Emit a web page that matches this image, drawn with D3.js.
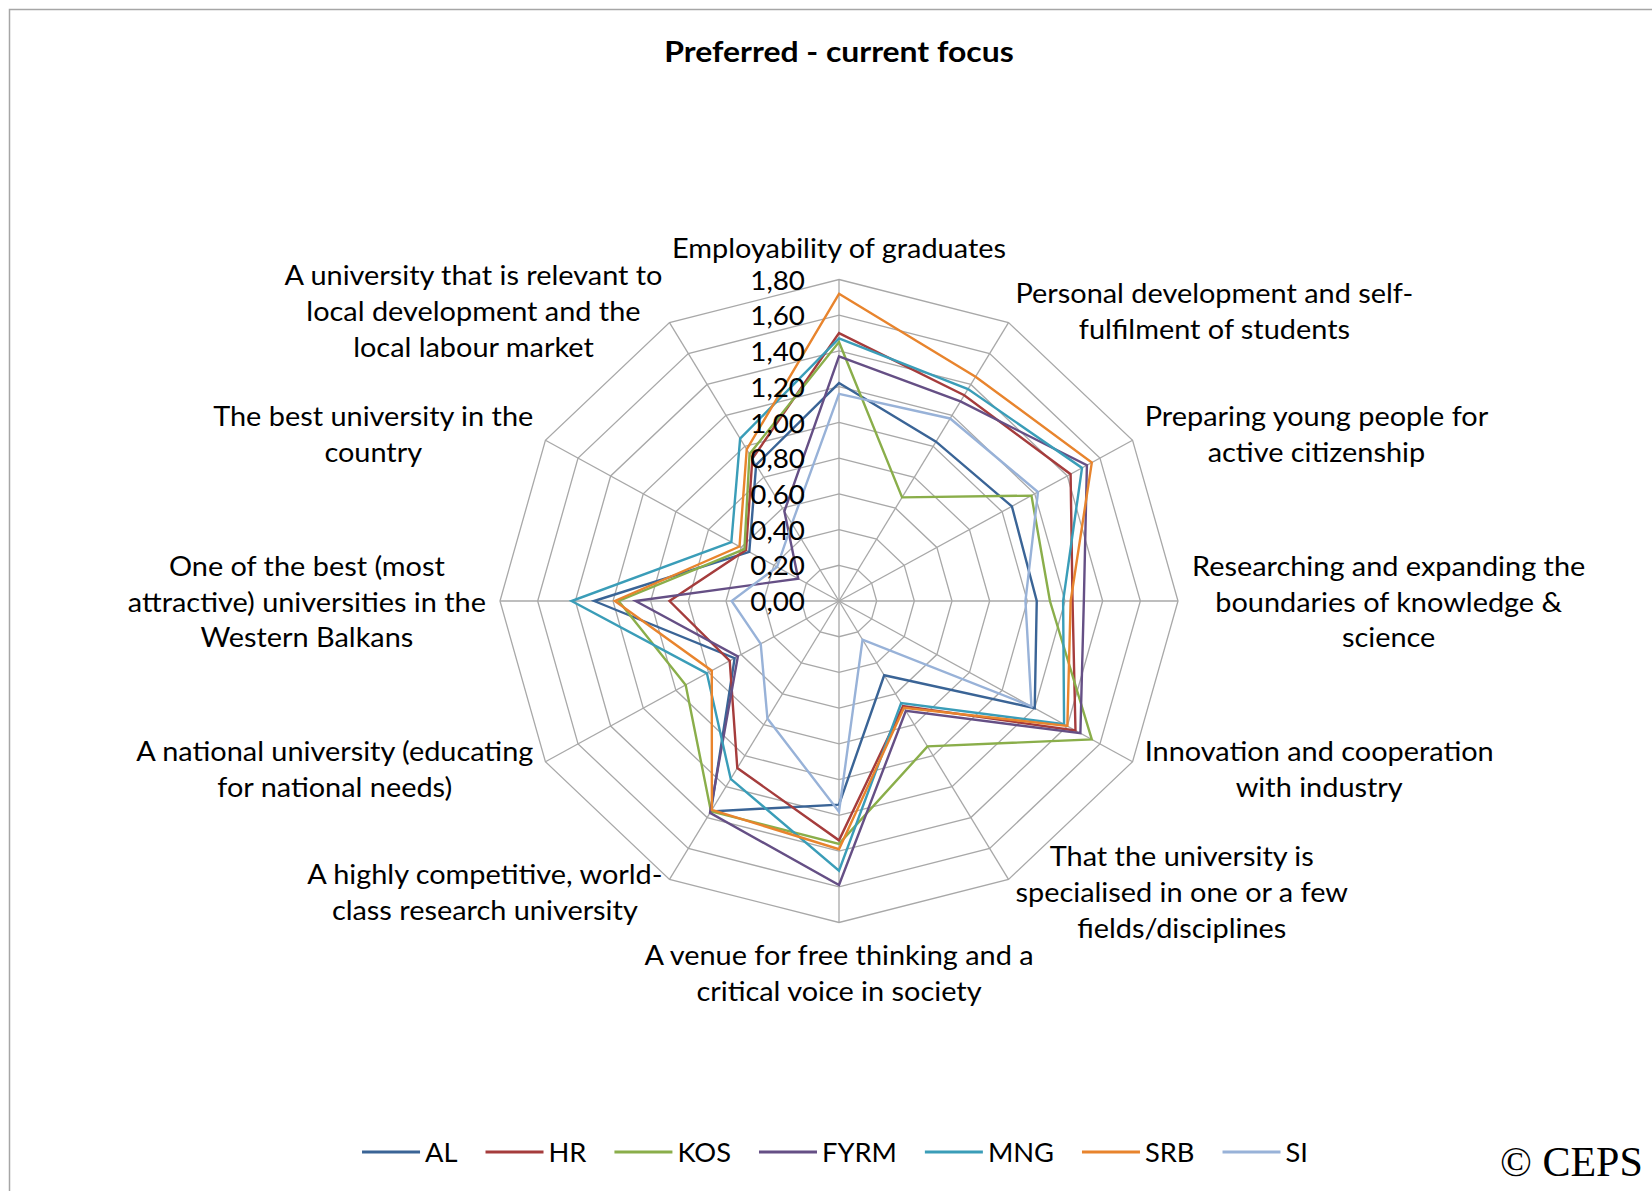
<!DOCTYPE html>
<html>
<head>
<meta charset="utf-8">
<script src="https://cdn.jsdelivr.net/npm/d3@7"></script>
<style>
  body { margin: 0; background: #ffffff; }
  svg { display: block; }
  text { font-family: Lato, "Open Sans", sans-serif; fill: #000; }
</style>
</head>
<body>
<svg id="chart" width="1652" height="1191"></svg>
<script>
// ---- data ----------------------------------------------------------------
const chartTitle = "Preferred - current focus";

const categories = [
  "Employability of graduates",
  "Personal development and self-fulfilment of students",
  "Preparing young people for active citizenship",
  "Researching and expanding the boundaries of knowledge & science",
  "Innovation and cooperation with industry",
  "That the university is specialised in one or a few fields/disciplines",
  "A venue for free thinking and a critical voice in society",
  "A highly competitive, world-class research university",
  "A national university (educating for national needs)",
  "One of the best (most attractive) universities in the Western Balkans",
  "The best university in the country",
  "A university that is relevant to local development and the local labour market"
];

// how each category label wraps
const categoryLines = [
  ["Employability of graduates"],
  ["Personal development and self-", "fulfilment of students"],
  ["Preparing young people for", "active citizenship"],
  ["Researching and expanding the", "boundaries of knowledge &", "science"],
  ["Innovation and cooperation", "with industry"],
  ["That the university is", "specialised in one or a few", "fields/disciplines"],
  ["A venue for free thinking and a", "critical voice in society"],
  ["A highly competitive, world-", "class research university"],
  ["A national university (educating", "for national needs)"],
  ["One of the best (most", "attractive) universities in the", "Western Balkans"],
  ["The best university in the", "country"],
  ["A university that is relevant to", "local development and the", "local labour market"]
];

const seriesNames = ["AL", "HR", "KOS", "FYRM", "MNG", "SRB", "SI"];

const valuesAL   = [1.22, 1.03, 1.06, 1.05, 1.20, 0.48, 1.14, 1.36, 0.64, 1.30, 0.55, 0.88];
const valuesHR   = [1.50, 1.33, 1.42, 1.24, 1.45, 0.68, 1.34, 1.08, 0.67, 0.90, 0.57, 0.92];
const valuesKOS  = [1.45, 0.67, 1.18, 1.12, 1.55, 0.94, 1.36, 1.36, 0.94, 1.17, 0.58, 0.95];
const valuesFYRM = [1.37, 1.29, 1.52, 1.30, 1.48, 0.71, 1.59, 1.37, 0.62, 1.08, 0.25, 0.58];
const valuesMNG  = [1.47, 1.37, 1.49, 1.19, 1.38, 0.66, 1.51, 1.15, 0.81, 1.42, 0.66, 1.05];
const valuesSRB  = [1.72, 1.45, 1.55, 1.23, 1.40, 0.69, 1.39, 1.35, 0.78, 1.19, 0.61, 0.98];
const valuesSI   = [1.16, 1.18, 1.22, 0.99, 1.18, 0.25, 1.18, 0.76, 0.48, 0.57, 0.38, 0.50];

const seriesValues = [valuesAL, valuesHR, valuesKOS, valuesFYRM, valuesMNG, valuesSRB, valuesSI];

const seriesColors = ["#3a6496", "#a53c3c", "#8aae4a", "#654f85", "#3a9db8", "#e8842d", "#98b2d8"];

const tickValues = [0, 0.2, 0.4, 0.6, 0.8, 1.0, 1.2, 1.4, 1.6, 1.8];
const tickLabels = ["0,00", "0,20", "0,40", "0,60", "0,80", "1,00", "1,20", "1,40", "1,60", "1,80"];

const copyrightText = "\u00A9 CEPS";

// ---- layout ----------------------------------------------------------------
const W = 1652, H = 1191;
const cx = 839, cy = 601;
const radiusX = 339, radiusY = 321.5;   // plot area is slightly wider than tall
const labelFont = 27;
const textStretch = 1.07;               // glyphs are drawn a little wide
const lineStep = 35.8;
const labelGap = 14;

const svg = d3.select("#chart");

svg.append("rect").attr("width", W).attr("height", H).attr("fill", "#ffffff");

// chart frame
svg.append("rect")
  .attr("x", 9.5).attr("y", 9.5)
  .attr("width", W + 40).attr("height", H + 40)
  .attr("fill", "none").attr("stroke", "#a6a6a6").attr("stroke-width", 1.5);

// title
svg.append("g")
  .attr("transform", `translate(${cx},51) scale(1.1,1)`)
  .append("text")
  .attr("text-anchor", "middle").attr("dominant-baseline", "central")
  .attr("font-size", 29).attr("font-weight", "bold")
  .text(chartTitle);

// scales
const maxVal = d3.max(tickValues);
const rX = d3.scaleLinear().domain([0, maxVal]).range([0, radiusX]);
const rY = d3.scaleLinear().domain([0, maxVal]).range([0, radiusY]);
const angle = d3.scaleLinear().domain([0, categories.length]).range([0, 2 * Math.PI]);

const px = (i, v) => cx + rX(v) * Math.sin(angle(i));
const py = (i, v) => cy - rY(v) * Math.cos(angle(i));

const plot = svg.append("g");
const idx = d3.range(categories.length);

// grid rings
const ringLine = d3.line()
  .x(d => d[0]).y(d => d[1])
  .curve(d3.curveLinearClosed);

plot.append("g").selectAll("path")
  .data(tickValues.filter(t => t > 0))
  .join("path")
  .attr("d", t => ringLine(idx.map(i => [px(i, t), py(i, t)])))
  .attr("fill", "none")
  .attr("stroke", "#a8a8a8")
  .attr("stroke-width", 1.3);

// spokes
plot.append("g").selectAll("line")
  .data(idx)
  .join("line")
  .attr("x1", cx).attr("y1", cy)
  .attr("x2", i => px(i, maxVal)).attr("y2", i => py(i, maxVal))
  .attr("stroke", "#a8a8a8")
  .attr("stroke-width", 1.3);

// series
const seriesLine = d3.line()
  .x((v, i) => px(i, v))
  .y((v, i) => py(i, v))
  .curve(d3.curveLinearClosed);

plot.append("g").selectAll("path")
  .data(seriesValues)
  .join("path")
  .attr("d", d => seriesLine(d))
  .attr("fill", "none")
  .attr("stroke", (d, k) => seriesColors[k])
  .attr("stroke-width", 2.4)
  .attr("stroke-linejoin", "miter");

// value axis labels along the top spoke
plot.append("g").selectAll("g")
  .data(tickValues)
  .join("g")
  .attr("transform", t => `translate(${cx - 34},${cy - rY(t)}) scale(${textStretch},1)`)
  .append("text")
  .attr("text-anchor", "end")
  .attr("dominant-baseline", "central")
  .attr("font-size", 26)
  .text((t, k) => tickLabels[k]);

// category labels, placed just outside each spoke end
const catG = svg.append("g");
idx.forEach(i => {
  const a = angle(i);
  const s = Math.sin(a), c = Math.cos(a);
  const lines = categoryLines[i];
  const g = catG.append("g");
  const inner = g.append("g").attr("transform", `scale(${textStretch},1)`);
  const texts = lines.map((ln, j) => inner.append("text")
    .attr("text-anchor", "middle")
    .attr("dominant-baseline", "central")
    .attr("font-size", labelFont)
    .attr("y", (j - (lines.length - 1) / 2) * lineStep)
    .text(ln));
  const w = d3.max(texts, t => t.node().getComputedTextLength()) * textStretch;
  const h = lines.length * lineStep;
  const vx = px(i, maxVal), vy = py(i, maxVal);
  const side = Math.abs(s) < 1e-6 ? 0 : Math.sign(s);
  const x = vx + s * labelGap + side * w / 2;
  let y = vy - c * labelGap;
  if (side === 0) y -= Math.sign(c) * h / 2;
  g.attr("transform", `translate(${x},${y})`);
});

// legend
const legendY = 1152;
const legendStretch = 1.05;
const legend = svg.append("g");
const items = seriesNames.map((name, k) => {
  const g = legend.append("g");
  g.append("line")
    .attr("x1", 0).attr("x2", 58)
    .attr("y1", 0).attr("y2", 0)
    .attr("stroke", seriesColors[k]).attr("stroke-width", 2.8);
  const t = g.append("g")
    .attr("transform", `translate(63,0) scale(${legendStretch},1)`)
    .append("text")
    .attr("dominant-baseline", "central")
    .attr("font-size", 26)
    .text(name);
  return { g, w: 63 + t.node().getComputedTextLength() * legendStretch };
});
const itemGap = 28;
const totalW = d3.sum(items, d => d.w) + itemGap * (items.length - 1);
let lx = 835 - totalW / 2;
items.forEach(it => {
  it.g.attr("transform", `translate(${lx},${legendY})`);
  lx += it.w + itemGap;
});

// copyright
svg.append("text")
  .attr("x", 1500).attr("y", 1176)
  .attr("font-size", 42)
  .style("font-family", "'Liberation Serif', 'DejaVu Serif', serif")
  .text(copyrightText);
</script>
</body>
</html>
